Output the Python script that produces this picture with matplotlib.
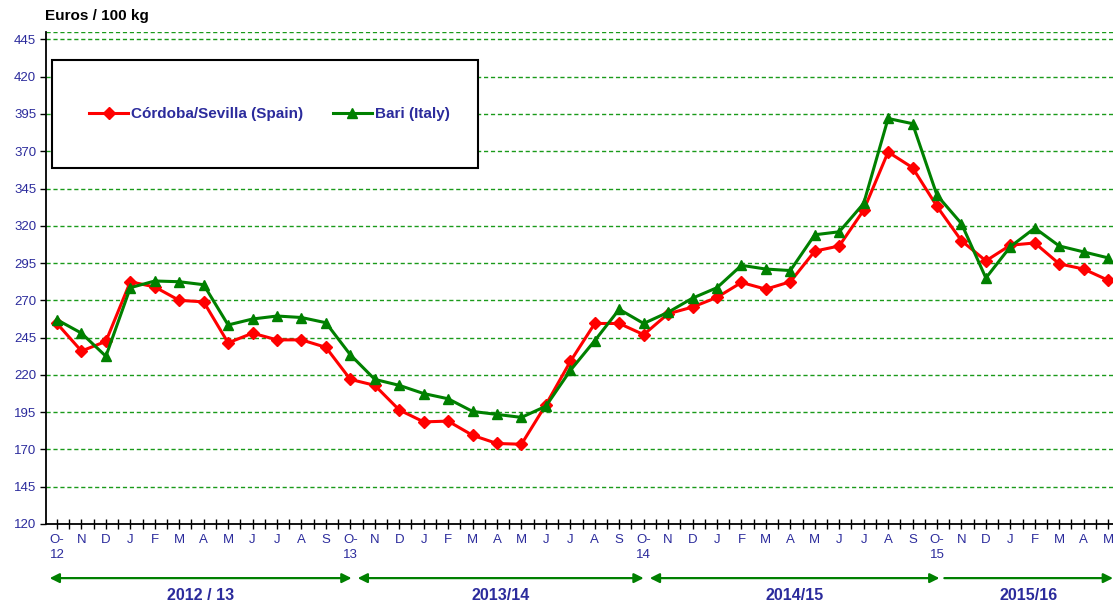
import matplotlib
matplotlib.use("Agg")
import matplotlib.pyplot as plt
from matplotlib.patches import Rectangle

plt.rcParams['font.family'] = ['Liberation Sans', 'DejaVu Sans']

# Monthly prices, Oct 2012 - May 2016 (Euros / 100 kg)
spain = [254.5, 236, 242.5, 282.5, 279, 270, 269, 241.5, 248, 243.5, 243.5, 238.5,
         217, 213, 196.5, 188.5, 189, 179.5, 174, 173.5, 200, 229, 254.5, 254.5,
         247, 261, 265.5, 272, 282, 277.5, 282.5, 303, 306.5, 330.5, 369.5, 359,
         333, 310, 296.5, 307, 308.5, 294.5, 291, 283.5]
italy = [257, 248, 232.5, 278.5, 283, 282.5, 280.5, 253.5, 257.5, 259.5, 258.5, 255,
         233.5, 217, 213, 207.5, 204, 195.5, 193.5, 191.5, 199, 223, 243, 264,
         254.5, 262, 271.5, 278.5, 293.5, 291, 290, 314, 316, 335, 392, 388.5,
         340.5, 321.5, 285, 306, 318.5, 306.5, 302.5, 298.5]
month_letters = ['O', 'N', 'D', 'J', 'F', 'M', 'A', 'M', 'J', 'J', 'A', 'S']
years = ['12', '13', '14', '15']
seasons = ['2012 / 13', '2013/14', '2014/15', '2015/16']
season_span = [(-0.3, 12.05), (12.3, 24.0), (24.25, 36.1), (36.3, 43.2)]

labels = []
for i in range(len(spain)):
    m = month_letters[i % 12]
    if m == 'O':
        labels.append('O-\n' + years[i // 12])
    else:
        labels.append(m)

red = '#ff0000'
green = '#008000'
grid_green = '#1a9a1a'
navy = '#2b2b9c'

fig = plt.figure(figsize=(11.13, 6.06), dpi=100)
ax = fig.add_axes([46 / 1113, 82 / 606, 1067 / 1113, 492 / 606])

x = list(range(len(spain)))
ax.plot(x, spain, color=red, lw=2.2, marker='D', markersize=6, zorder=3,
        label='Córdoba/Sevilla (Spain)')
ax.plot(x, italy, color=green, lw=2.2, marker='^', markersize=7.5, zorder=4,
        label='Bari (Italy)')

ax.set_ylim(120, 450)
ax.set_xlim(-0.45, 43.2)
ax.set_yticks(range(120, 446, 25))
for v in range(145, 451, 25):
    ax.axhline(v, color=grid_green, lw=1, ls=(0, (3, 2)), zorder=1)
ax.axhline(450, color=grid_green, lw=1, ls=(0, (3, 2)), zorder=1)

ax.set_xticks(x)
ax.set_xticklabels(labels)
ax.set_xticks([i + 0.5 for i in x[:-1]], minor=True)
ax.tick_params(axis='x', which='both', direction='inout', length=7, width=1,
               colors='black', labelcolor=navy, labelsize=9.5, pad=4)
ax.tick_params(axis='y', direction='out', length=4, width=1, colors='black',
               labelcolor=navy, labelsize=9.5, pad=3)
for t in ax.get_xticklabels():
    t.set_linespacing(1.3)
    t.set_verticalalignment('top')

for s in ['top', 'right']:
    ax.spines[s].set_visible(False)
ax.spines['left'].set_linewidth(1.3)
ax.spines['bottom'].set_linewidth(1.3)

fig.text(45 / 1113, 1 - 16 / 606, 'Euros / 100 kg', fontsize=11, fontweight='bold',
         va='center', ha='left')

# legend box
ax.add_patch(Rectangle((6 / 1067, (524 - 168) / 492), (478 - 52) / 1067, 108 / 492,
                       transform=ax.transAxes, fill=True, facecolor='white',
                       edgecolor='black', lw=1.5, zorder=5))
leg = ax.legend(loc='center left', bbox_to_anchor=((81 - 46) / 1067, (524 - 114) / 492),
                ncol=2, frameon=False, borderpad=0, handlelength=2.6,
                handletextpad=0.2, columnspacing=1.9,
                prop={'weight': 'bold', 'size': 11})
leg.set_zorder(6)
for t in leg.get_texts():
    t.set_color(navy)

# season arrows
for name, (a, b) in zip(seasons, season_span):
    style = '-|>' if name == seasons[-1] else '<|-|>'
    ax.annotate('', xy=(b, -0.11), xytext=(a, -0.11),
                xycoords=('data', 'axes fraction'), textcoords=('data', 'axes fraction'),
                arrowprops=dict(arrowstyle=style, color=green, lw=1.6,
                                mutation_scale=14, shrinkA=0, shrinkB=0),
                annotation_clip=False)
    ax.text((a + b) / 2, -0.145, name, transform=ax.get_xaxis_transform(),
            ha='center', va='center', fontsize=11.5, fontweight='bold', color=navy)

fig.savefig('out.png', dpi=100)
